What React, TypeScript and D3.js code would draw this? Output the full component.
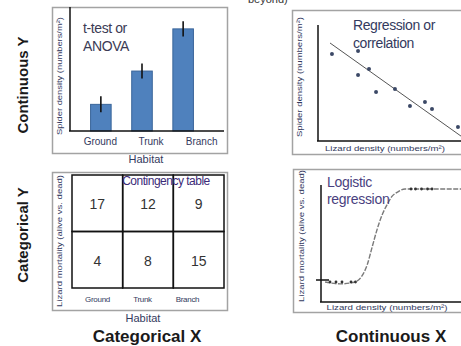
import React from "react";
import * as d3 from "d3";

const habitats = ["Ground", "Trunk", "Branch"];
const spiderMeans = [2.4, 5.4, 9.2];
const spiderErrors = [0.72, 0.68, 0.68];

const lizardDensity = [0.93, 2.67, 3.4, 2.67, 3.87, 5.13, 6.13, 7.13, 7.6, 9.33];
const spiderDensity = [7.5, 7.76, 6.21, 5.69, 4.22, 4.48, 3.02, 3.36, 2.76, 1.21];
const fitX = [0.8, 9.6];
const fitY = [8.45, 0.36];

const mortalityRows = ["alive", "dead"];
const countsAlive = [17, 12, 9];
const countsDead = [4, 8, 15];

const logisticX = [0.27, 1.27, 2.27, 2.73, 3.07, 3.4, 3.73, 4.07, 4.4, 4.73, 5.13, 5.6, 9.6];
const logisticY = [0, -0.02, 0, 0.065, 0.18, 0.37, 0.56, 0.72, 0.83, 0.92, 0.97, 1.0, 1.0];
const deadPointsX = [0.6, 1.0, 1.4, 2.0, 2.3];
const alivePointsX = [6.0, 6.3, 6.7, 7.1, 7.4];

const FONT = "Liberation Sans, Arial, sans-serif";
const TXT = "#333a5e";
const PANEL = "#a3a3a3";

export default function App() {
  // Panel 1: bar chart
  const xBar = d3.scaleBand<string>().domain(habitats).range([70, 214]).padding(0.5);
  const xBarLabel = d3.scaleBand<string>().domain(habitats).range([75, 227]);
  const yBar = d3.scaleLinear().domain([0, 10]).range([131, 20]);

  // Panel 2: scatter
  const xSc = d3.scaleLinear().domain([0, 10]).range([318, 468]);
  const ySc = d3.scaleLinear().domain([0, 10]).range([141, 25]);

  // Panel 3: table
  const xTab = d3.scaleBand<string>().domain(habitats).range([72, 224]);
  const xTabLabel = d3.scaleBand<string>().domain(habitats).range([75, 210]);
  const yTab = d3.scaleBand<string>().domain(mortalityRows).range([175, 288]);
  const counts = [countsAlive, countsDead];

  // Panel 4: logistic
  const xLg = d3.scaleLinear().domain([0, 10]).range([321, 471]);
  const yLg = d3.scaleLinear().domain([0, 1]).range([282, 189]);
  const logisticLine = d3
    .line<number>()
    .x((_, i) => xLg(logisticX[i]))
    .y((d) => yLg(d))
    .curve(d3.curveMonotoneX)(logisticY) as string;

  return (
    <svg
      width={461}
      height={346}
      style={{ position: "absolute", left: 0, top: 0, background: "#fff" }}
      fontFamily={FONT}
    >
      <rect x={0} y={0} width={461} height={346} fill="#fff" />
      {/* cut-off top text */}
      <text x={248} y={3} fontSize={11} fill="#333">beyond)</text>

      {/* Row / column titles */}
      <text transform="translate(28,85) rotate(-90)" textAnchor="middle" fontSize={15} fontWeight="bold" fill="#1a1a1a">
        Continuous Y
      </text>
      <text transform="translate(28,235) rotate(-90)" textAnchor="middle" fontSize={15} fontWeight="bold" fill="#1a1a1a">
        Categorical Y
      </text>
      <text x={147} y={342} textAnchor="middle" fontSize={17} fontWeight="bold" fill="#1a1a1a">
        Categorical X
      </text>
      <text x={391} y={342} textAnchor="middle" fontSize={17} fontWeight="bold" fill="#1a1a1a">
        Continuous X
      </text>

      {/* ===== Panel 1 ===== */}
      <rect x={52.5} y={7.5} width={175} height={146} fill="#fff" stroke={PANEL} strokeWidth={1.5} />
      <text transform="translate(62,76) rotate(-90)" textAnchor="middle" fontSize={7.5} fill={TXT} textLength={118} lengthAdjust="spacingAndGlyphs">
        Spider density (numbers/m²)
      </text>
      {habitats.map((h, i) => (
        <g key={h}>
          <rect
            x={xBar(h)}
            y={yBar(spiderMeans[i])}
            width={xBar.bandwidth()}
            height={yBar(0) - yBar(spiderMeans[i])}
            fill="#4f81bd"
            stroke="#3a659a"
            strokeWidth={1}
          />
          <line
            x1={(xBar(h) as number) + xBar.bandwidth() / 2}
            x2={(xBar(h) as number) + xBar.bandwidth() / 2}
            y1={yBar(spiderMeans[i] + spiderErrors[i])}
            y2={yBar(spiderMeans[i] - spiderErrors[i])}
            stroke="#111"
            strokeWidth={1.6}
          />
          <text
            x={(xBarLabel(h) as number) + xBarLabel.bandwidth() / 2}
            y={145}
            textAnchor="middle"
            fontSize={10}
            fill={TXT}
          >
            {h}
          </text>
        </g>
      ))}
      <line x1={70} x2={70} y1={7} y2={131} stroke="#111" strokeWidth={1.5} />
      <line x1={69} x2={224} y1={131} y2={131} stroke="#111" strokeWidth={1.5} />
      <text x={83} y={33} fontSize={14} fill="#3b3b55" letterSpacing={-0.4}>t-test or</text>
      <text x={83} y={51} fontSize={14} fill="#3b3b55" letterSpacing={-0.4}>ANOVA</text>
      <text x={146} y={163} textAnchor="middle" fontSize={11} fill={TXT}>Habitat</text>

      {/* ===== Panel 2 ===== */}
      <rect x={292.5} y={10.5} width={180} height={144} fill="#fff" stroke={PANEL} strokeWidth={1.5} />
      <text transform="translate(302,77) rotate(-90)" textAnchor="middle" fontSize={7.5} fill={TXT} textLength={120} lengthAdjust="spacingAndGlyphs">
        Spider density (numbers/m²)
      </text>
      <line x1={318} x2={318} y1={25} y2={141} stroke="#111" strokeWidth={1.5} />
      <line x1={317} x2={472} y1={141} y2={141} stroke="#111" strokeWidth={1.5} />
      <line x1={xSc(fitX[0])} y1={ySc(fitY[0])} x2={xSc(fitX[1])} y2={ySc(fitY[1])} stroke="#555" strokeWidth={1} />
      {lizardDensity.map((d, i) => (
        <circle key={i} cx={xSc(d)} cy={ySc(spiderDensity[i])} r={2} fill="#3b4866" />
      ))}
      <text x={353} y={30} fontSize={14} fill={TXT} letterSpacing={-0.4}>Regression or</text>
      <text x={353} y={48} fontSize={14} fill={TXT} letterSpacing={-0.4}>correlation</text>
      <text x={385} y={151} textAnchor="middle" fontSize={7.5} fill={TXT} textLength={120} lengthAdjust="spacingAndGlyphs">
        Lizard density (numbers/m²)
      </text>

      {/* ===== Panel 3 ===== */}
      <rect x={52.5} y={172.5} width={175} height={138} fill="#fff" stroke={PANEL} strokeWidth={1.5} />
      <text transform="translate(62,241) rotate(-90)" textAnchor="middle" fontSize={7.5} fill={TXT} textLength={132} lengthAdjust="spacingAndGlyphs">
        Lizard mortality (alive vs. dead)
      </text>
      {mortalityRows.map((r, ri) =>
        habitats.map((h, ci) => (
          <g key={r + h}>
            <rect
              x={xTab(h)}
              y={yTab(r)}
              width={xTab.bandwidth()}
              height={yTab.bandwidth()}
              fill="none"
              stroke="#111"
              strokeWidth={1.5}
            />
            <text
              x={(xTab(h) as number) + xTab.bandwidth() / 2}
              y={(yTab(r) as number) + yTab.bandwidth() / 2 + 6}
              textAnchor="middle"
              fontSize={14}
              fill="#333"
            >
              {counts[ri][ci]}
            </text>
          </g>
        ))
      )}
      <text x={166} y={185} textAnchor="middle" fontSize={12} fill="#3b2a78" letterSpacing={-0.5}>
        Contingency table
      </text>
      {habitats.map((h) => (
        <text
          key={h}
          x={(xTabLabel(h) as number) + xTabLabel.bandwidth() / 2}
          y={302}
          textAnchor="middle"
          fontSize={8}
          fill={TXT}
          letterSpacing={-0.3}
        >
          {h}
        </text>
      ))}
      <text x={143} y={322} textAnchor="middle" fontSize={11} fill={TXT}>Habitat</text>

      {/* ===== Panel 4 ===== */}
      <rect x={293.5} y={169.5} width={180} height={143} fill="#fff" stroke={PANEL} strokeWidth={1.5} />
      <text transform="translate(304,236) rotate(-90)" textAnchor="middle" fontSize={7.5} fill={TXT} textLength={132} lengthAdjust="spacingAndGlyphs">
        Lizard mortality (alive vs. dead)
      </text>
      <line x1={321} x2={321} y1={185} y2={302} stroke="#111" strokeWidth={1.5} />
      <line x1={320} x2={472} y1={302} y2={302} stroke="#111" strokeWidth={1.5} />
      <line x1={316} x2={329} y1={yLg(0) - 2} y2={yLg(0) - 2} stroke="#111" strokeWidth={1.5} />
      <path d={logisticLine} fill="none" stroke="#7a7a7a" strokeWidth={1.4} strokeDasharray="5,1.5" />
      {deadPointsX.map((d, i) => (
        <circle key={"d" + i} cx={xLg(d)} cy={yLg(0)} r={1.4} fill="#333" />
      ))}
      {alivePointsX.map((d, i) => (
        <circle key={"a" + i} cx={xLg(d)} cy={yLg(1)} r={1.4} fill="#333" />
      ))}
      <text x={327} y={187} fontSize={14} fill="#4a3f80" letterSpacing={-0.3}>Logistic</text>
      <text x={327} y={204} fontSize={14} fill="#4a3f80" letterSpacing={-0.3}>regression</text>
      <text x={387} y={310} textAnchor="middle" fontSize={7.5} fill={TXT} textLength={121} lengthAdjust="spacingAndGlyphs">
        Lizard density (numbers/m²)
      </text>
    </svg>
  );
}
